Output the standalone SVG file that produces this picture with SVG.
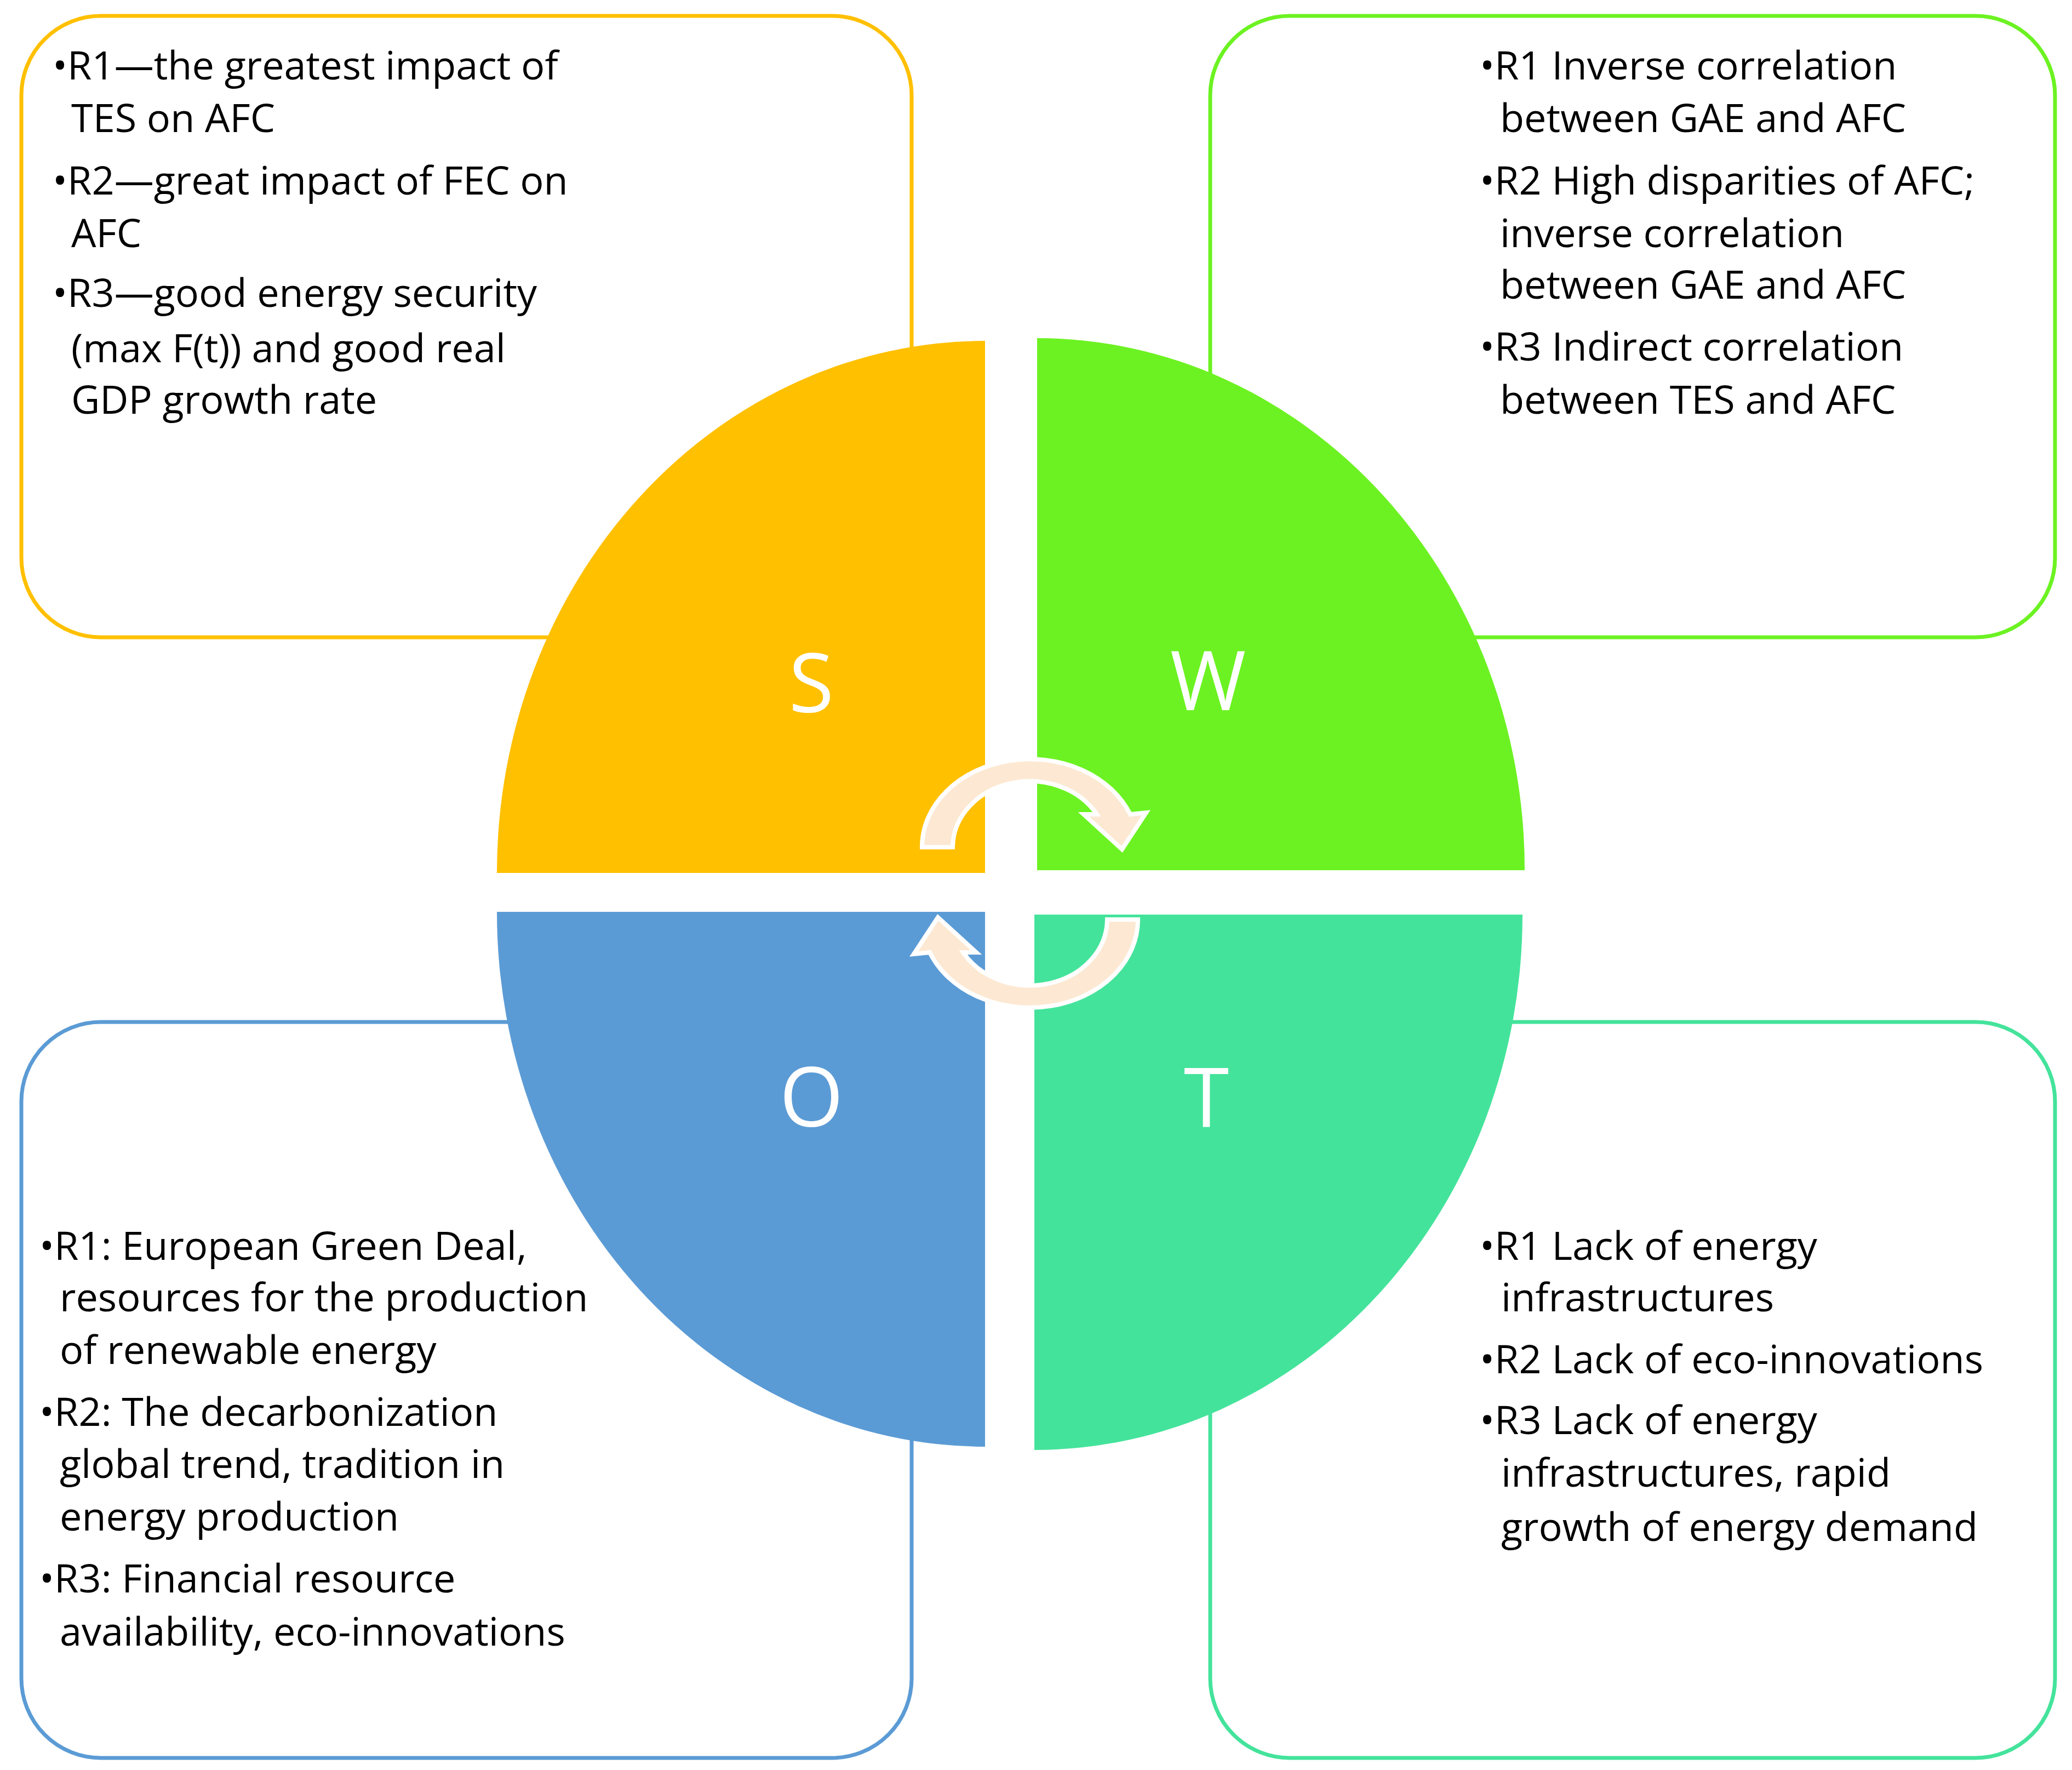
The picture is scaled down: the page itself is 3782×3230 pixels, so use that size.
<svg xmlns="http://www.w3.org/2000/svg" width="3782" height="3230" viewBox="0 0 3782 3230">
<style>
.box{fill:#fff;stroke-width:7}
.t{font-family:"Open Sans","Liberation Sans",sans-serif;font-size:72px;fill:#000}
.L{font-family:"Open Sans","Liberation Sans",sans-serif;font-size:150px;fill:#fff;text-anchor:middle}
.arr{fill:#fde9d3;stroke:#fff;stroke-width:8;stroke-linejoin:miter}
</style>
<rect width="3782" height="3230" fill="#fff"/>
<g id="boxS"><rect class="box" x="39" y="29" width="1625" height="1134" rx="145" stroke="#FFC000"/></g>
<g id="boxW"><rect class="box" x="2209" y="29" width="1542" height="1134" rx="145" stroke="#6CF222"/></g>
<g id="boxO"><rect class="box" x="39" y="1865" width="1625" height="1343" rx="145" stroke="#5B9BD5"/></g>
<g id="boxT"><rect class="box" x="2209" y="1865" width="1542" height="1343" rx="145" stroke="#44E39B"/></g>
<g id="S"><path d="M1798 1593 L907 1593 A891 971 0 0 1 1798 622 Z" fill="#FFC000"/><text class="L" x="1481" y="1300">S</text></g>
<g id="W"><path d="M1893 1588 L1893 617 A890 971 0 0 1 2783 1588 Z" fill="#6CF222"/><text class="L" x="2205" y="1296">W</text></g>
<g id="O"><path d="M1798 1664 L907 1664 A891 976 0 0 0 1798 2640 Z" fill="#5B9BD5"/><text class="L" x="1481" y="2056">O</text></g>
<g id="T"><path d="M1888 1669 L2779 1669 A891 977 0 0 1 1888 2646 Z" fill="#44E39B"/><text class="L" x="2202" y="2056">T</text></g>
<g id="connectors">
<path class="arr" d="M1683 1546 A197 160 0 0 1 2063 1486 L2092 1483 L2048 1550 L1978 1486 L2002 1486 A141 121 0 0 0 1739 1546 Z"/>
<path class="arr" transform="rotate(180 1880 1612)" d="M1683 1546 A197 160 0 0 1 2063 1486 L2092 1483 L2048 1550 L1978 1486 L2002 1486 A141 121 0 0 0 1739 1546 Z"/>
</g>
<g id="textS" class="t">
<text x="96" y="145">•R1—the greatest impact of</text>
<text x="130" y="241">TES on AFC</text>
<text x="96" y="355">•R2—great impact of FEC on</text>
<text x="130" y="451">AFC</text>
<text x="96" y="560">•R3—good energy security</text>
<text x="130" y="661">(max F(t)) and good real</text>
<text x="130" y="755">GDP growth rate</text>
</g>
<g id="textW" class="t">
<text x="2701" y="145">•R1 Inverse correlation</text>
<text x="2738" y="241">between GAE and AFC</text>
<text x="2701" y="355">•R2 High disparities of AFC;</text>
<text x="2738" y="451">inverse correlation</text>
<text x="2738" y="545">between GAE and AFC</text>
<text x="2701" y="658">•R3 Indirect correlation</text>
<text x="2738" y="755">between TES and AFC</text>
</g>
<g id="textO" class="t">
<text x="72" y="2299">•R1: European Green Deal,</text>
<text x="109" y="2393">resources for the production</text>
<text x="109" y="2489">of renewable energy</text>
<text x="72" y="2602">•R2: The decarbonization</text>
<text x="109" y="2697">global trend, tradition in</text>
<text x="109" y="2793">energy production</text>
<text x="72" y="2906">•R3: Financial resource</text>
<text x="109" y="3003">availability, eco-innovations</text>
</g>
<g id="textT" class="t">
<text x="2701" y="2299">•R1 Lack of energy</text>
<text x="2740" y="2393">infrastructures</text>
<text x="2701" y="2506">•R2 Lack of eco-innovations</text>
<text x="2701" y="2617">•R3 Lack of energy</text>
<text x="2740" y="2713">infrastructures, rapid</text>
<text x="2740" y="2812">growth of energy demand</text>
</g>
</svg>
